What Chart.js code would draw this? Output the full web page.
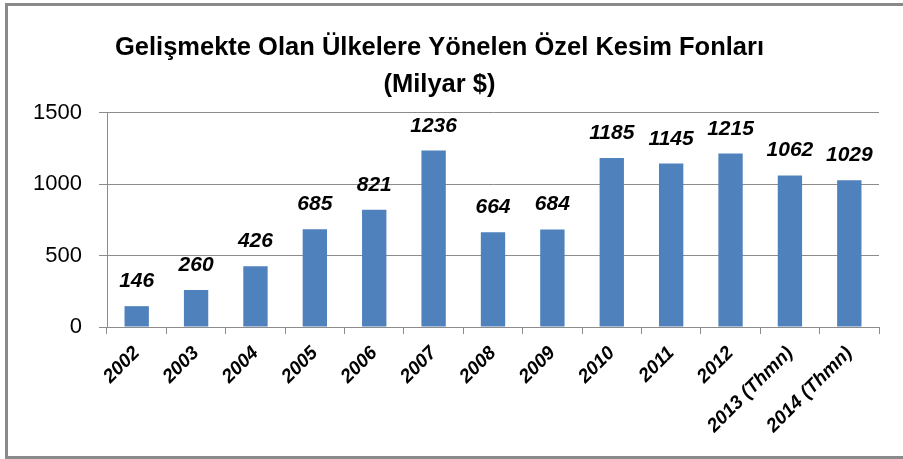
<!DOCTYPE html>
<html>
<head>
<meta charset="utf-8">
<script src="https://cdn.jsdelivr.net/npm/chart.js@4/dist/chart.umd.min.js"></script>
<style>
    body { margin: 0; background: #fff; overflow: hidden; }
    #wrap { position: relative; width: 903px; height: 459px; }
    #frame {
        position: absolute; left: 5px; top: 3px; width: 1000px; height: 456px;
        box-sizing: border-box; border: 3px solid #8a8a8a; pointer-events: none;
    }
</style>
</head>
<body>
<div id="wrap">
    <canvas id="fonlar" width="903" height="459"></canvas>
    <div id="frame"></div>
</div>
<script>
let years = ['2002', '2003', '2004', '2005', '2006', '2007', '2008', '2009', '2010', '2011', '2012', '2013 (Thmn)', '2014 (Thmn)'];
let fonlar = [146, 260, 426, 685, 821, 1236, 664, 684, 1185, 1145, 1215, 1062, 1029];
let yTicks = [0, 500, 1000, 1500];
let titleLines = ['Gelişmekte Olan Ülkelere Yönelen Özel Kesim Fonları', '(Milyar $)'];

// writes the value over each bar
const valueLabels = {
    id: 'valueLabels',
    afterDatasetsDraw(chart) {
        let ctx = chart.ctx;
        let meta = chart.getDatasetMeta(0);
        ctx.save();
        ctx.font = 'italic bold 21px "Liberation Sans", Arial, sans-serif';
        ctx.fillStyle = '#000';
        ctx.textAlign = 'center';
        ctx.textBaseline = 'alphabetic';
        meta.data.forEach((bar, i) => {
            ctx.fillText(chart.data.datasets[0].data[i], bar.x, bar.y - 19);
        });
        ctx.restore();
    }
};

let ctx = document.getElementById('fonlar').getContext('2d');
new Chart(ctx, {
    type: 'bar',
    data: {
        labels: years,
        datasets: [{
            label: 'Fonlar',
            data: fonlar,
            backgroundColor: '#4f81bd',
            categoryPercentage: 1,
            barPercentage: 0.41,
        }]
    },
    options: {
        responsive: false,
        animation: false,
        layout: { padding: { left: 0, right: 24, top: 0, bottom: 0 } },
        plugins: {
            legend: { display: false },
            tooltip: { enabled: false },
            title: {
                display: true,
                text: titleLines,
                color: '#000',
                font: { family: '"Liberation Sans", Arial, sans-serif', size: 25.5, weight: 'bold', lineHeight: 1.43 },
                padding: { top: 30, bottom: 10 },
            },
        },
        scales: {
            x: {
                afterFit: (scale) => { scale.height = 132; },
                grid: { offset: true, drawOnChartArea: false, tickLength: 7, color: '#8c8c8c' },
                border: { color: '#8c8c8c' },
                ticks: {
                    minRotation: 45, maxRotation: 45, padding: 8, color: '#000',
                    font: { family: '"Liberation Sans", Arial, sans-serif', size: 19, weight: 'bold', style: 'italic' },
                },
            },
            y: {
                min: 0,
                max: 1500,
                afterFit: (scale) => { scale.width = 107; },
                afterBuildTicks: (scale) => { scale.ticks = yTicks.map(v => ({ value: v })); },
                grid: { tickLength: 8, color: '#8c8c8c' },
                border: { color: '#8c8c8c' },
                ticks: {
                    padding: 17, color: '#000',
                    font: { family: '"Liberation Sans", Arial, sans-serif', size: 22 },
                    callback: (v) => String(v),
                },
            },
        },
    },
    plugins: [valueLabels],
});
</script>
</body>
</html>
